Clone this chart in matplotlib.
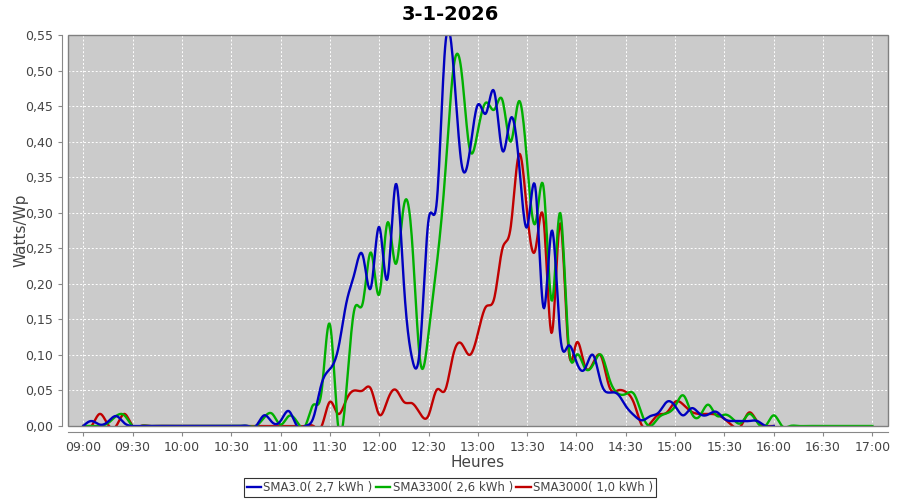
import numpy as np
import matplotlib
matplotlib.use('Agg')
import matplotlib.pyplot as plt
from matplotlib.patches import Rectangle
from matplotlib.ticker import FuncFormatter, MultipleLocator

# sampling: every 5 minutes from 09:00
start_hour = 9.0
step_min = 5

blue = [0.0, 0.007, 0.002, 0.006, 0.014, 0.004, 0.0, 0, 0, 0,
        0, 0, 0, 0, 0, 0, 0, 0, 0, 0,
        0, 0.0, 0.015, 0.005, 0.007, 0.021, 0.0, 0.0, 0.012, 0.060,
        0.080, 0.108, 0.173, 0.215, 0.240, 0.195, 0.280, 0.207, 0.340, 0.200,
        0.095, 0.115, 0.290, 0.315, 0.530, 0.510, 0.370, 0.385, 0.452, 0.440,
        0.470, 0.387, 0.433, 0.370, 0.280, 0.335, 0.166, 0.275, 0.130, 0.113,
        0.090, 0.080, 0.100, 0.060, 0.047, 0.045, 0.028, 0.015, 0.008, 0.014,
        0.019, 0.034, 0.028, 0.015, 0.025, 0.017, 0.016, 0.020, 0.010, 0.007,
        0.007, 0.007, 0.007, 0.0, 0.0]

green = [0.0, 0.0, 0.0, 0.004, 0.014, 0.015, 0.0, 0, 0, 0,
         0, 0, 0, 0, 0, 0, 0, 0, 0, 0,
         0, 0.0, 0.012, 0.017, 0.002, 0.014, 0.006, 0.0, 0.030, 0.050,
         0.143, 0.0, 0.050, 0.165, 0.173, 0.244, 0.185, 0.286, 0.228, 0.310,
         0.260, 0.090, 0.130, 0.227, 0.350, 0.500, 0.500, 0.390, 0.415, 0.455,
         0.445, 0.458, 0.400, 0.457, 0.370, 0.285, 0.335, 0.176, 0.300, 0.120,
         0.100, 0.082, 0.086, 0.100, 0.066, 0.046, 0.045, 0.045, 0.015, 0.0,
         0.012, 0.018, 0.028, 0.043, 0.018, 0.014, 0.030, 0.015, 0.016, 0.010,
         0.004, 0.017, 0.005, 0.0, 0.015, 0.0, 0, 0, 0, 0,
         0, 0, 0, 0, 0, 0, 0]

red = [0.0, 0.0, 0.017, 0.002, 0.0, 0.017, 0.0, 0, 0, 0,
       0, 0, 0, 0, 0, 0, 0, 0, 0, 0,
       0, 0, 0, 0, 0, 0, 0, 0, 0, 0.0,
       0.034, 0.017, 0.037, 0.050, 0.050, 0.052, 0.016, 0.036, 0.051, 0.034,
       0.032, 0.017, 0.015, 0.051, 0.050, 0.100, 0.116, 0.100, 0.130, 0.168,
       0.180, 0.250, 0.280, 0.382, 0.300, 0.248, 0.290, 0.131, 0.285, 0.112,
       0.117, 0.085, 0.088, 0.098, 0.055, 0.050, 0.048, 0.032, 0.0, 0.004,
       0.016, 0.019, 0.034, 0.030, 0.020, 0.017, 0.017, 0.016, 0.010, 0.0,
       0.0, 0.019, 0.006, 0.0, 0.0]

labels = ['SMA3.0( 2,7 kWh )', 'SMA3300( 2,6 kWh )', 'SMA3000( 1,0 kWh )']
colors = ['#0000c0', '#00b000', '#c00000']
title = '3-1-2026'


def spline(x, y, xs):
    # natural cubic spline, like the spline renderer of the original
    x = np.asarray(x, float); y = np.asarray(y, float)
    n = len(x); h = np.diff(x)
    A = np.zeros((n, n)); b = np.zeros(n)
    A[0, 0] = A[-1, -1] = 1
    for i in range(1, n - 1):
        A[i, i - 1] = h[i - 1]; A[i, i] = 2 * (h[i - 1] + h[i]); A[i, i + 1] = h[i]
        b[i] = 3 * ((y[i + 1] - y[i]) / h[i] - (y[i] - y[i - 1]) / h[i - 1])
    c = np.linalg.solve(A, b)
    bb = (y[1:] - y[:-1]) / h - h * (2 * c[:-1] + c[1:]) / 3
    d = (c[1:] - c[:-1]) / (3 * h)
    idx = np.clip(np.searchsorted(x, xs) - 1, 0, n - 2)
    dx = xs - x[idx]
    return y[idx] + bb[idx] * dx + c[idx] * dx ** 2 + d[idx] * dx ** 3


fig = plt.figure(figsize=(9, 5), dpi=100)
ax = fig.add_axes([68 / 900, 1 - 426 / 500, 820 / 900, 391 / 500])
ax.set_facecolor('#cbcbcb')

handles = []
for vals, col, lab in list(zip([blue, green, red], colors, labels))[::-1]:
    t = start_hour + np.arange(len(vals)) * step_min / 60
    ts = np.linspace(t[0], t[-1], len(vals) * 12)
    h, = ax.plot(ts, spline(t, vals, ts), color=col, lw=1.7, label=lab, zorder=3)
    handles.append(h)
handles = handles[::-1]

ax.set_xlim(8.845, 17.158)
ax.set_ylim(0, 0.55)
ax.xaxis.set_major_locator(MultipleLocator(0.5))
ax.yaxis.set_major_locator(MultipleLocator(0.05))
ax.xaxis.set_major_formatter(FuncFormatter(
    lambda v, p: '%02d:%02d' % (int(v + 1e-6), round((v - int(v + 1e-6)) * 60))))
ax.yaxis.set_major_formatter(FuncFormatter(lambda v, p: ('%.2f' % v).replace('.', ',')))
ax.grid(True, color='white', ls=(0, (2, 2)), lw=0.7)
ax.set_axisbelow(True)

for s in ['top', 'right']:
    ax.spines[s].set_visible(False)
for s in ['left', 'bottom']:
    ax.spines[s].set_position(('outward', 4))
    ax.spines[s].set_color('#888888')
ax.add_patch(Rectangle((0, 0), 1, 1, transform=ax.transAxes, fill=False,
                       ec='#808080', lw=1.0, zorder=5, clip_on=False))
ax.tick_params(colors='#888888', labelcolor='#444444', labelsize=9, length=3, width=0.8)

ax.set_xlabel('Heures', fontsize=11, color='#444444', labelpad=1)
ax.set_ylabel('Watts/Wp', fontsize=11, color='#444444', labelpad=-2)
fig.text(0.5, 1 - 14 / 500, title, ha='center', va='center', fontsize=14, weight='bold')

leg = fig.legend(handles=handles, loc='lower center', bbox_to_anchor=(0.5, 0.002), ncol=3,
                 fontsize=8.5, frameon=True, fancybox=False, edgecolor='black',
                 handlelength=1.2, handletextpad=0.2, columnspacing=0.3, borderpad=0.25,
                 borderaxespad=0.2)
leg.get_frame().set_linewidth(0.8)
for tx in leg.get_texts():
    tx.set_color('#444444')

fig.savefig('out.png', dpi=100, facecolor='white')
